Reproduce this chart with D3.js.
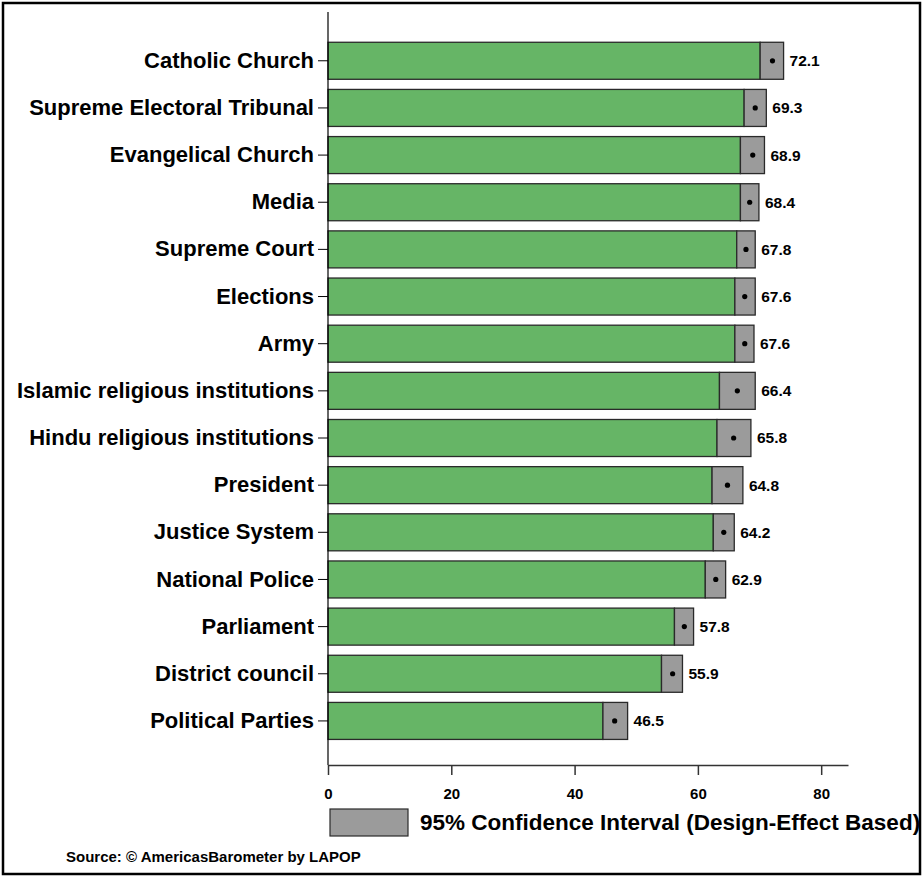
<!DOCTYPE html>
<html>
<head>
<meta charset="utf-8">
<script src="https://cdn.jsdelivr.net/npm/d3@7"></script>
<style>
  html, body { margin: 0; padding: 0; background: #fff; }
  svg { display: block; }
  text { font-family: "Liberation Sans", Arial, sans-serif; font-weight: bold; fill: #000; }
</style>
</head>
<body>
<svg id="chart" width="923" height="877"></svg>
<script>
const categories = [
  "Catholic Church", "Supreme Electoral Tribunal", "Evangelical Church", "Media",
  "Supreme Court", "Elections", "Army", "Islamic religious institutions",
  "Hindu religious institutions", "President", "Justice System", "National Police",
  "Parliament", "District council", "Political Parties"
];
const values = [72.1, 69.3, 68.9, 68.4, 67.8, 67.6, 67.6, 66.4, 65.8, 64.8, 64.2, 62.9, 57.8, 55.9, 46.5];
const ciLow  = [70.1, 67.5, 66.9, 66.9, 66.3, 66.0, 66.0, 63.5, 63.1, 62.3, 62.5, 61.2, 56.2, 54.1, 44.6];
const ciHigh = [73.9, 71.1, 70.8, 69.9, 69.3, 69.3, 69.1, 69.3, 68.6, 67.3, 65.9, 64.5, 59.3, 57.5, 48.6];
const xTicks = [0, 20, 40, 60, 80];
const legendLabel = "95% Confidence Interval (Design-Effect Based)";
const sourceLabel = "Source: \u00A9 AmericasBarometer by LAPOP";

const data = categories.map((c, i) => ({ cat: c, v: values[i], lo: ciLow[i], hi: ciHigh[i] }));

const svg = d3.select("#chart");
const GREEN = "#66b566", GREY = "#9b9b9b", EDGE = "#2a2a2a";

// outer frame
svg.append("rect").attr("x", 3).attr("y", 3).attr("width", 917).attr("height", 871)
  .attr("fill", "none").attr("stroke", "#000").attr("stroke-width", 2.5);

const x = d3.scaleLinear().domain([0, 84.35]).range([328, 848]);
const y = d3.scaleBand().domain(categories).range([37.2, 744.5]).paddingInner(0.215).paddingOuter(0.1075);

// bars
const g = svg.append("g");
g.selectAll("rect.bar").data(data).join("rect").attr("class", "bar")
  .attr("x", x(0)).attr("y", d => y(d.cat))
  .attr("width", d => x(d.lo) - x(0)).attr("height", y.bandwidth())
  .attr("fill", GREEN).attr("stroke", EDGE).attr("stroke-width", 1.3);
g.selectAll("rect.ci").data(data).join("rect").attr("class", "ci")
  .attr("x", d => x(d.lo)).attr("y", d => y(d.cat))
  .attr("width", d => x(d.hi) - x(d.lo)).attr("height", y.bandwidth())
  .attr("fill", GREY).attr("stroke", EDGE).attr("stroke-width", 1.3);
g.selectAll("circle").data(data).join("circle")
  .attr("cx", d => x(d.v)).attr("cy", d => y(d.cat) + y.bandwidth() / 2)
  .attr("r", 2.6).attr("fill", "#000");
g.selectAll("text.val").data(data).join("text").attr("class", "val")
  .attr("x", d => x(d.hi) + 6).attr("y", d => y(d.cat) + y.bandwidth() / 2)
  .attr("dy", "0.35em").attr("font-size", 15.5).text(d => d.v.toFixed(1));

// y axis
const yAxis = svg.append("g").attr("transform", `translate(${x(0)},0)`)
  .call(d3.axisLeft(y).tickSize(10).tickPadding(4));
yAxis.select(".domain").remove();
yAxis.selectAll("text").attr("font-size", 22).attr("fill", "#000");
yAxis.selectAll("line").attr("stroke", "#000");
svg.append("line").attr("x1", x(0)).attr("x2", x(0)).attr("y1", 12).attr("y2", 765)
  .attr("stroke", "#000").attr("stroke-width", 1.2);

// x axis
const xAxis = svg.append("g").attr("transform", "translate(0,765)")
  .call(d3.axisBottom(x).tickValues(xTicks).tickSize(10).tickPadding(13).tickSizeOuter(0));
xAxis.select(".domain").attr("stroke", "#333").attr("stroke-width", 1.5);
xAxis.selectAll("line").attr("stroke", "#333").attr("stroke-width", 1.5);
xAxis.selectAll("text").attr("font-size", 15).attr("fill", "#000");

// legend
svg.append("rect").attr("x", 330).attr("y", 809).attr("width", 78).attr("height", 27)
  .attr("fill", GREY).attr("stroke", EDGE).attr("stroke-width", 1.2);
svg.append("text").attr("x", 420).attr("y", 822.5).attr("dy", "0.35em")
  .attr("font-size", 22.5).text(legendLabel);

// source
svg.append("text").attr("x", 66).attr("y", 857).attr("dy", "0.35em")
  .attr("font-size", 15).text(sourceLabel);
</script>
</body>
</html>
